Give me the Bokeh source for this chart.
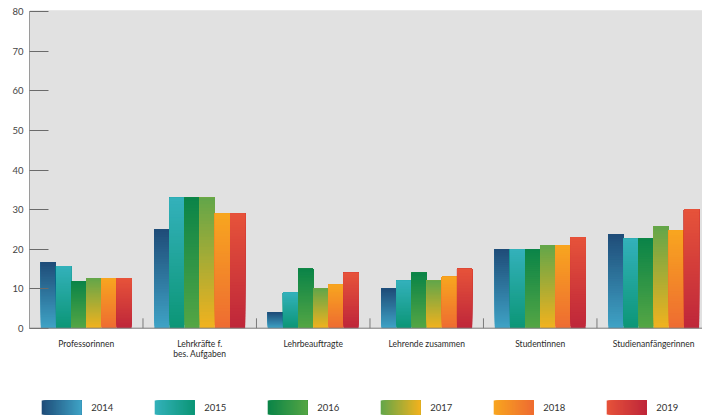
from bokeh.plotting import figure
from bokeh.models import Range1d, BoxAnnotation, Span, FixedTicker, ColumnDataSource
from bokeh.core.properties import value
from bokeh.embed import file_html
from bokeh.resources import INLINE

categories = ["Professorinnen", "Lehrkräfte f.\nbes. Aufgaben", "Lehrbeauftragte",
              "Lehrende zusammen", "Studentinnen", "Studienanfängerinnen"]
years = ["2014", "2015", "2016", "2017", "2018", "2019"]
v2014 = [16.7, 25, 4, 10, 20, 23.8]
v2015 = [15.7, 33, 9, 12, 20, 22.6]
v2016 = [11.8, 33, 15, 14, 20, 22.6]
v2017 = [12.7, 33, 10, 12, 21, 25.8]
v2018 = [12.7, 29, 11, 13, 21, 24.8]
v2019 = [12.7, 29, 14, 15, 23, 30.1]
series = [v2014, v2015, v2016, v2017, v2018, v2019]
y_ticks = [0, 10, 20, 30, 40, 50, 60, 70, 80]

# gradient colours (top, bottom)
grad = [("#1f4c78", "#3fa3c6"),
        ("#33b1bb", "#0c9676"),
        ("#0a8448", "#55a644"),
        ("#62a64a", "#f2b21e"),
        ("#f8a61f", "#ee6b32"),
        ("#e6533a", "#bf263a")]

FONT = "Lato"


def hx(c):
    c = c.lstrip("#")
    return [int(c[i:i + 2], 16) for i in (0, 2, 4)]


def lerp(c1, c2, t):
    a, b = hx(c1), hx(c2)
    return "#%02x%02x%02x" % tuple(int(round(a[i] + (b[i] - a[i]) * t)) for i in range(3))


W, H = 702, 415
BORDER_L = 29
x0, x1 = -0.5, 5.43
y0, y1 = -22.07, 82.86
px_x = (W - BORDER_L) / (x1 - x0)
px_y = H / (y1 - y0)

p = figure(width=W, height=H, output_backend="svg", toolbar_location=None,
           x_range=Range1d(x0, x1), y_range=Range1d(y0, y1),
           min_border_left=BORDER_L, min_border_right=0, min_border_top=0, min_border_bottom=0)
p.outline_line_color = None
p.background_fill_color = "white"
p.border_fill_color = "white"
p.grid.visible = False
p.xaxis.visible = False

ya = p.yaxis[0]
ya.ticker = FixedTicker(ticks=y_ticks)
ya.bounds = (0, 80)
ya.axis_line_color = "#9a9a9a"
ya.major_tick_line_color = "#6a6a6a"
ya.major_tick_in = 19
ya.major_tick_out = 0
ya.minor_tick_line_color = None
ya.major_label_text_font = FONT
ya.major_label_text_font_size = "9.5px"
ya.major_label_text_color = "#444444"
ya.major_label_standoff = 6

p.add_layout(BoxAnnotation(bottom=0, top=80.4, fill_color="#e1e1e1", fill_alpha=1,
                           line_alpha=0, level="underlay"))

# bars as vertical gradients (stacked thin slices, each drawn from its start to the bar top)
N = 40
bw = 0.8 / 6
L, R, B, T, C = [], [], [], [], []
for j, vals in enumerate(series):
    top_c, bot_c = grad[j]
    for i, v in enumerate(vals):
        left = i - 0.4 + j * bw
        for k in range(N):
            L.append(left)
            R.append(left + bw)
            B.append(v * k / N)
            T.append(v)
            C.append(lerp(bot_c, top_c, (k + 0.5) / N))
p.quad(left="l", right="r", bottom="b", top="t", fill_color="c", line_color=None,
       source=ColumnDataSource(dict(l=L, r=R, b=B, t=T, c=C)))

# x axis line and separators
p.add_layout(Span(location=0, dimension="width", line_color="#7a7a7a", line_width=1))
sep_x = [i + 0.5 for i in range(len(categories) - 1)]
p.segment(x0=sep_x, x1=sep_x, y0=[0] * len(sep_x), y1=[2.5] * len(sep_x),
          line_color="#7a7a7a", line_width=1)

# category labels
p.text(x=list(range(len(categories))), y=[-2.73] * len(categories), text=categories,
       text_font=value(FONT), text_font_size="8.5px", text_color="#2a2a2a",
       text_align="center", text_baseline="top", text_line_height=1.0)

# legend with horizontal gradients (each slice runs from its start to the swatch right edge)
sw_w = 39.5 / px_x
step = 113.0 / px_x
lx0 = x0 + (41.7 - BORDER_L - 0.5) / px_x
ly_top, ly_bot = -(400 - 327.7) / px_y, -(414 - 327.7) / px_y
L, R, B, T, C = [], [], [], [], []
for j in range(len(years)):
    top_c, bot_c = grad[j]
    xl = lx0 + j * step
    for k in range(N):
        L.append(xl + sw_w * k / N)
        R.append(xl + sw_w)
        B.append(ly_bot)
        T.append(ly_top)
        C.append(lerp(top_c, bot_c, (k + 0.5) / N))
p.quad(left="l", right="r", bottom="b", top="t", fill_color="c", line_color=None,
       source=ColumnDataSource(dict(l=L, r=R, b=B, t=T, c=C)))
p.text(x=[lx0 + j * step + sw_w + 10 / px_x for j in range(len(years))],
       y=[(ly_top + ly_bot) / 2] * len(years), text=years,
       text_font=value(FONT), text_font_size="9.5px", text_color="#333333",
       text_align="left", text_baseline="middle")

open("out.html", "w").write(file_html(p, INLINE))
